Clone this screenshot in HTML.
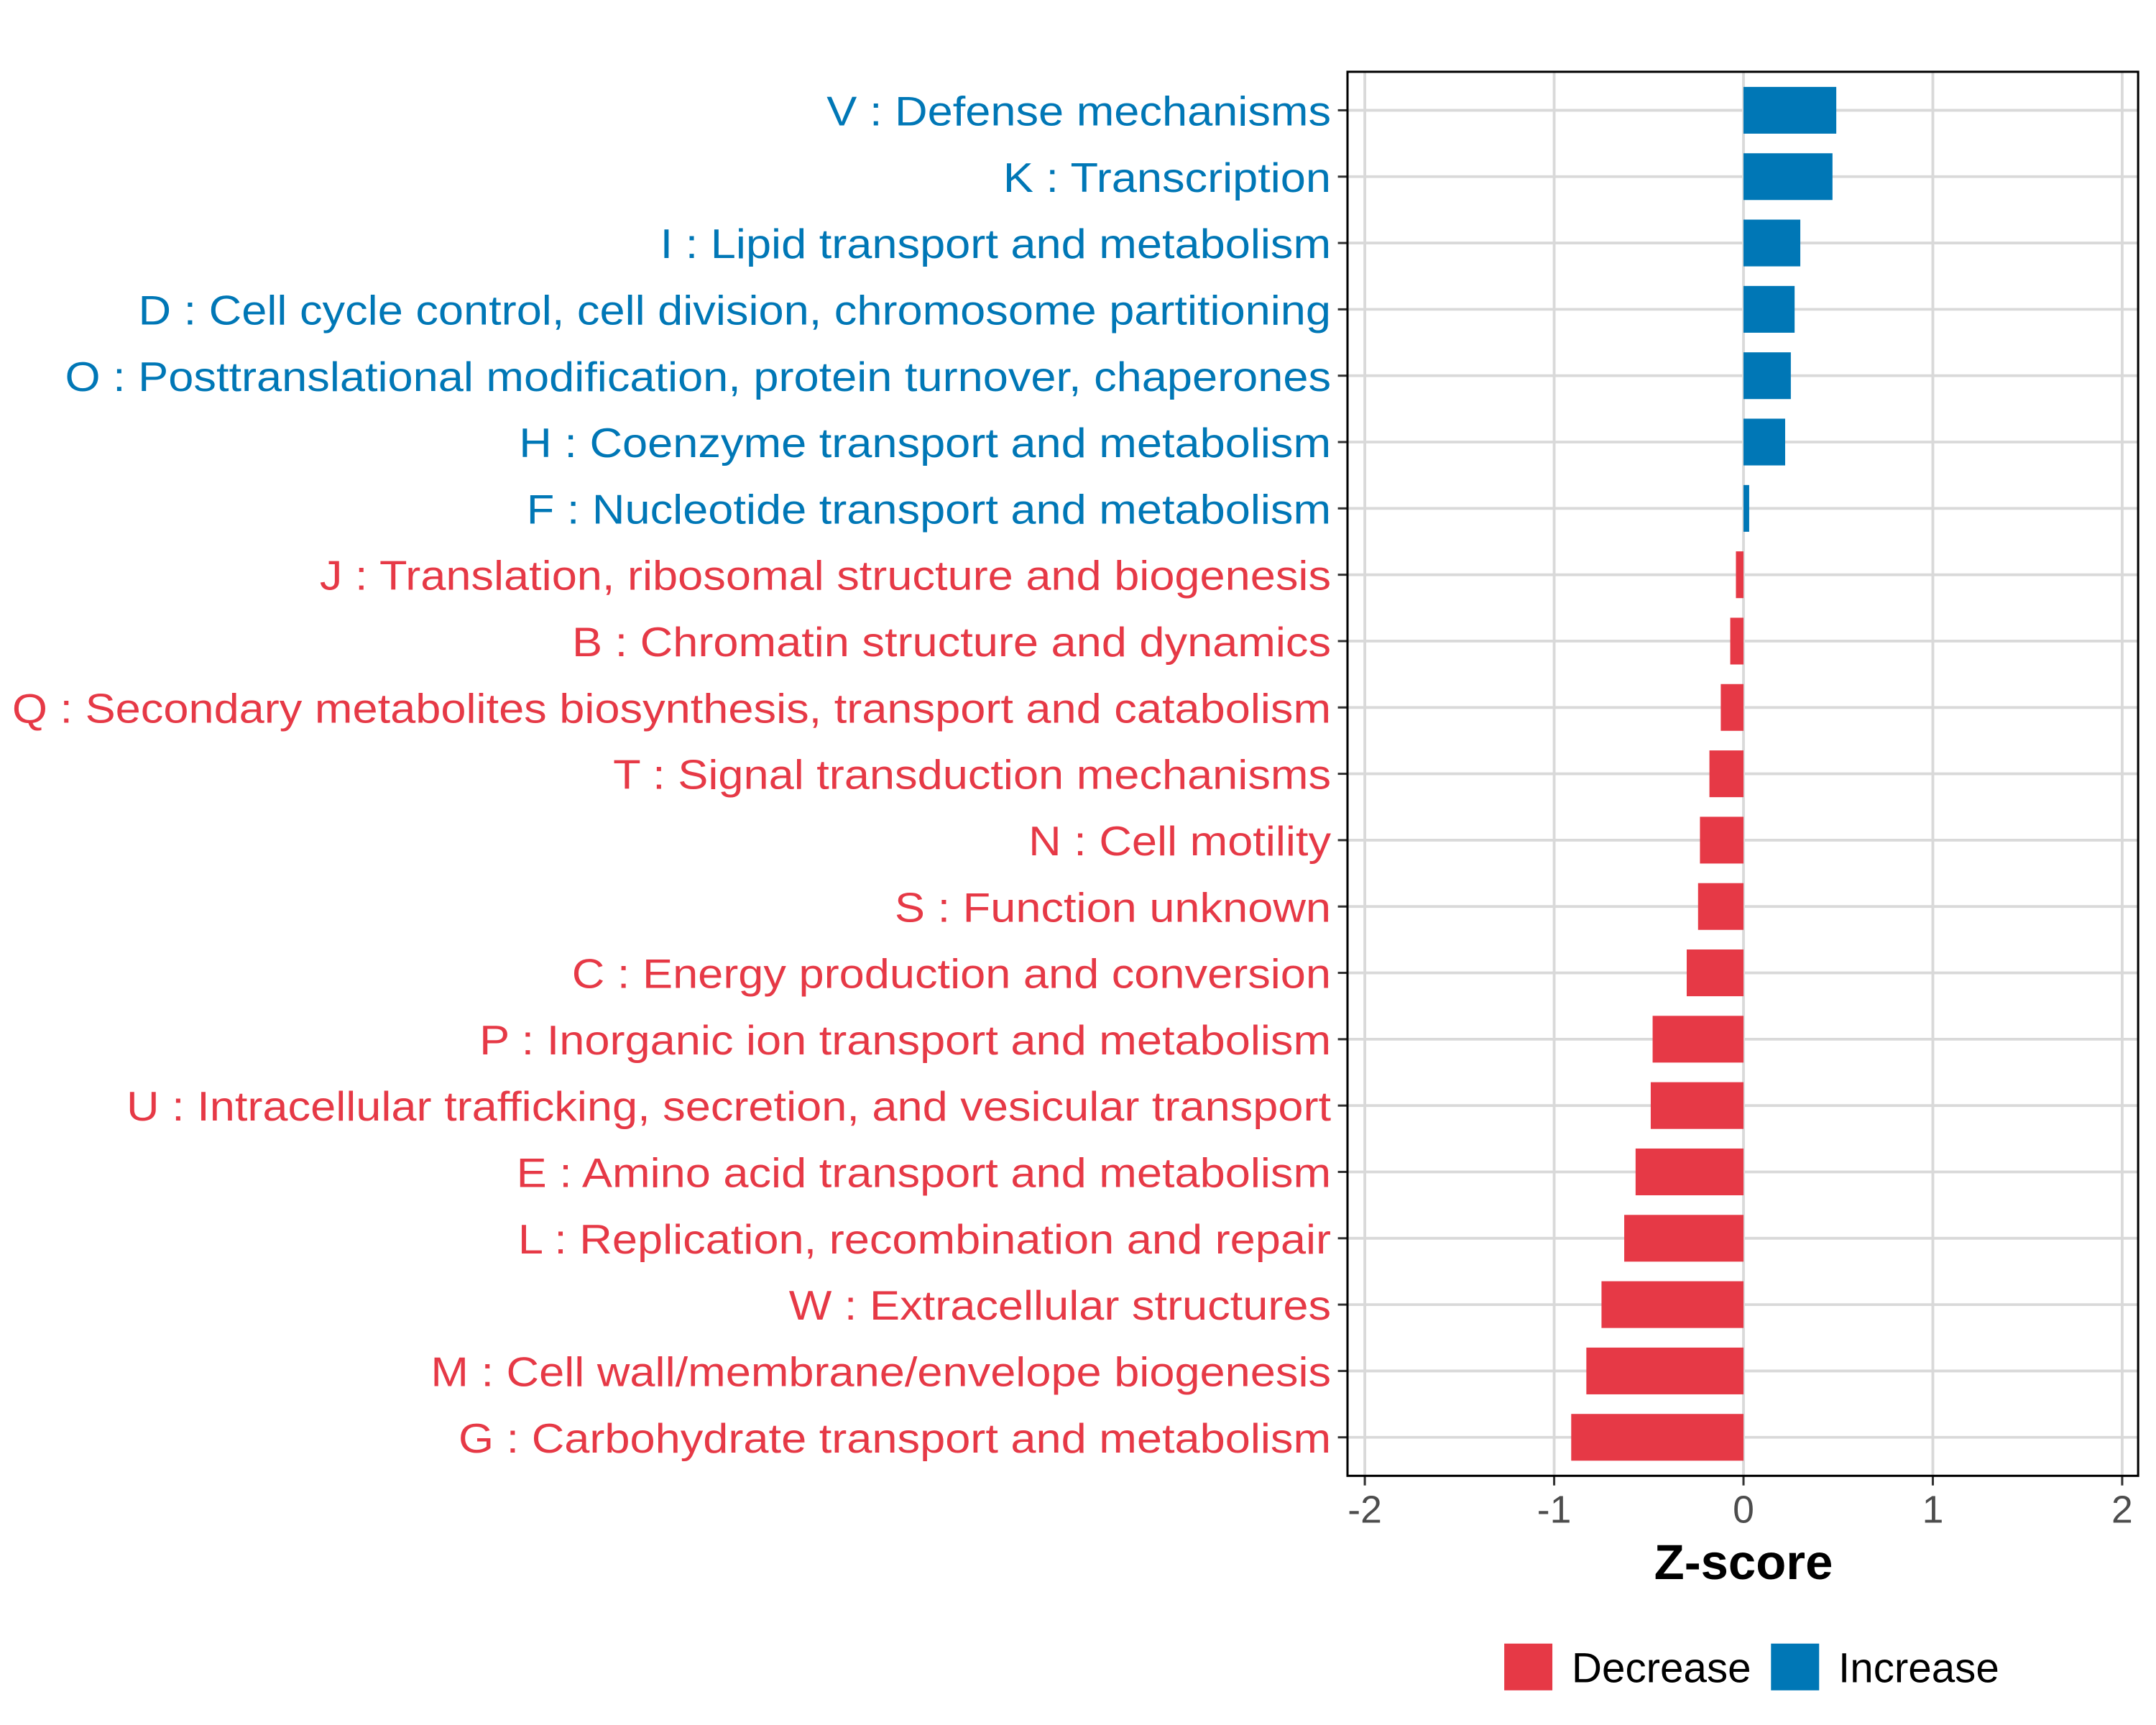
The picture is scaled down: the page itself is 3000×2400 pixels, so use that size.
<!DOCTYPE html>
<html><head><meta charset="utf-8"><style>html,body{margin:0;padding:0;background:#fff}svg{display:block}</style></head>
<body>
<svg id="chart" width="3000" height="2400" viewBox="0 0 1568 1254" xmlns="http://www.w3.org/2000/svg" font-family="Liberation Sans, Arial, sans-serif">
<rect width="1568" height="1254" fill="#fff"/>
<g id="grid"></g><g id="bars"></g><g id="labels"></g><g id="axis"></g>
<rect x="980" y="52" width="575" height="1021" fill="none" stroke="#000" stroke-width="1.6"/>
<text x="1268" y="1148" font-size="36" font-weight="bold" text-anchor="middle">Z-score</text>
<g>
<rect x="1094" y="1195" width="35" height="34" fill="#E63946"/>
<text x="1143" y="1223" font-size="30.5">Decrease</text>
<rect x="1288" y="1195" width="35" height="34" fill="#0077B6"/>
<text x="1337" y="1223" font-size="30.5">Increase</text>
</g>
</svg>
<script>
const categories = ["V : Defense mechanisms","K : Transcription","I : Lipid transport and metabolism","D : Cell cycle control, cell division, chromosome partitioning","O : Posttranslational modification, protein turnover, chaperones","H : Coenzyme transport and metabolism","F : Nucleotide transport and metabolism","J : Translation, ribosomal structure and biogenesis","B : Chromatin structure and dynamics","Q : Secondary metabolites biosynthesis, transport and catabolism","T : Signal transduction mechanisms","N : Cell motility","S : Function unknown","C : Energy production and conversion","P : Inorganic ion transport and metabolism","U : Intracellular trafficking, secretion, and vesicular transport","E : Amino acid transport and metabolism","L : Replication, recombination and repair","W : Extracellular structures","M : Cell wall/membrane/envelope biogenesis","G : Carbohydrate transport and metabolism"];
const zscores = [0.49,0.47,0.30,0.27,0.25,0.22,0.03,-0.04,-0.07,-0.12,-0.18,-0.23,-0.24,-0.30,-0.48,-0.49,-0.57,-0.63,-0.75,-0.83,-0.91];
const xTicks = [-2,-1,0,1,2];
const xTickLabels = ["-2","-1","0","1","2"];
const NS="http://www.w3.org/2000/svg";
const x = v => 1268 + v*137.7;
const y = i => 80 + i*48.25;
const BH = 34;
const grid=document.getElementById('grid'), bars=document.getElementById('bars'), labels=document.getElementById('labels'), axis=document.getElementById('axis');
function mk(tag, attrs, parent){const e=document.createElementNS(NS,tag);for(const k in attrs)e.setAttribute(k,attrs[k]);parent.appendChild(e);return e;}
xTicks.forEach((t,i)=>{
  const g=mk('line',{x1:x(t),x2:x(t),y1:52,y2:1073,stroke:'#d9d9d9','stroke-width':2},grid);
  
  
  const tk=mk('line',{x1:x(t),x2:x(t),y1:1073,y2:1080,stroke:'#333','stroke-width':1.6},axis);
  
  
  const tl=mk('text',{x:x(t),y:1107,'font-size':28,'text-anchor':'middle',fill:'#4d4d4d'},axis);
  tl.textContent=xTickLabels[i];
  
  
});
categories.forEach((c,i)=>{
  const g=mk('line',{x1:980,x2:1555,y1:y(i),y2:y(i),stroke:'#d9d9d9','stroke-width':2},grid);
  
  
  const v=zscores[i], col=v>=0?'#0077B6':'#E63946';
  const b=mk('rect',{x:Math.min(x(0),x(v)),y:y(i)-BH/2,width:Math.abs(x(v)-x(0)),height:BH,fill:col},bars);
  
  
  const tk=mk('line',{x1:973,x2:980,y1:y(i),y2:y(i),stroke:'#333','stroke-width':1.6},axis);
  
  
  const t=mk('text',{x:0,y:0,'font-size':30,'text-anchor':'end',fill:col,transform:'translate(968,'+(y(i)+11)+') scale(1.1,1)'},labels);
  t.textContent=c;
  
  
});
</script>
</body></html>
